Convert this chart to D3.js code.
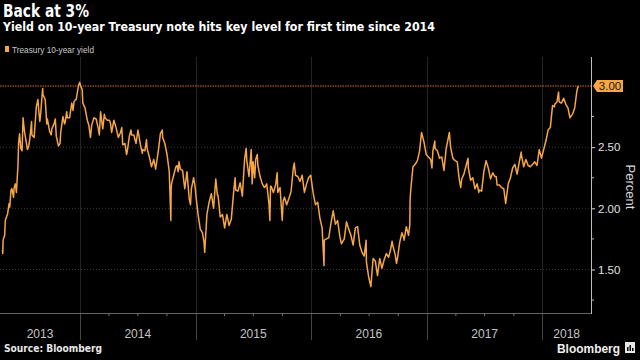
<!DOCTYPE html>
<html><head><meta charset="utf-8">
<script src="https://cdn.jsdelivr.net/npm/d3@7"></script>
<style>html,body{margin:0;padding:0;background:#000;}svg{display:block;}</style>
</head><body>
<svg id="c" width="640" height="360"></svg>
<script>
// ---- data (10-year Treasury yield, %) ----
const d2013 = [["2013-05-01",1.66],["2013-05-02",1.63],["2013-05-03",1.74],["2013-05-08",1.78],["2013-05-10",1.90],["2013-05-15",1.94],["2013-05-17",1.95],["2013-05-22",2.04],["2013-05-24",2.01],["2013-05-28",2.15],["2013-05-31",2.16],["2013-06-05",2.09],["2013-06-07",2.17],["2013-06-11",2.20],["2013-06-14",2.13],["2013-06-19",2.35],["2013-06-21",2.53],["2013-06-24",2.61],["2013-06-28",2.49],["2013-07-02",2.47],["2013-07-05",2.74],["2013-07-09",2.64],["2013-07-12",2.59],["2013-07-19",2.48],["2013-07-23",2.51],["2013-07-26",2.56],["2013-08-01",2.71],["2013-08-02",2.60],["2013-08-09",2.58],["2013-08-13",2.72],["2013-08-16",2.83],["2013-08-21",2.89],["2013-08-23",2.82],["2013-08-27",2.71],["2013-08-30",2.78],["2013-09-05",2.98],["2013-09-06",2.93],["2013-09-13",2.89],["2013-09-18",2.69],["2013-09-20",2.73],["2013-09-27",2.63],["2013-10-02",2.60],["2013-10-04",2.65],["2013-10-11",2.69],["2013-10-15",2.73],["2013-10-18",2.59],["2013-10-25",2.51],["2013-10-30",2.53],["2013-11-01",2.62],["2013-11-08",2.75],["2013-11-13",2.69],["2013-11-15",2.70],["2013-11-20",2.79],["2013-11-22",2.74],["2013-11-29",2.74],["2013-12-06",2.86],["2013-12-10",2.80],["2013-12-13",2.87],["2013-12-18",2.89],["2013-12-20",2.89],["2013-12-27",3.00],["2013-12-31",3.03]];
const d2014 = [["2014-01-03",3.00],["2014-01-08",2.97],["2014-01-10",2.86],["2014-01-17",2.82],["2014-01-24",2.72],["2014-01-29",2.68],["2014-01-31",2.64],["2014-02-03",2.58],["2014-02-07",2.68],["2014-02-14",2.74],["2014-02-21",2.73],["2014-02-28",2.65],["2014-03-03",2.60],["2014-03-07",2.79],["2014-03-14",2.65],["2014-03-19",2.77],["2014-03-21",2.74],["2014-03-28",2.72],["2014-04-04",2.72],["2014-04-07",2.70],["2014-04-11",2.62],["2014-04-18",2.72],["2014-04-25",2.66],["2014-05-02",2.58],["2014-05-09",2.62],["2014-05-13",2.66],["2014-05-16",2.52],["2014-05-23",2.53],["2014-05-28",2.44],["2014-05-30",2.46],["2014-06-06",2.59],["2014-06-11",2.64],["2014-06-13",2.60],["2014-06-20",2.60],["2014-06-27",2.53],["2014-07-03",2.64],["2014-07-11",2.52],["2014-07-17",2.45],["2014-07-18",2.48],["2014-07-25",2.47],["2014-07-30",2.56],["2014-08-01",2.49],["2014-08-08",2.42],["2014-08-15",2.34],["2014-08-22",2.40],["2014-08-28",2.32],["2014-08-29",2.34],["2014-09-05",2.46],["2014-09-12",2.61],["2014-09-18",2.64],["2014-09-19",2.58],["2014-09-26",2.53],["2014-10-03",2.44],["2014-10-10",2.30],["2014-10-15",1.90],["2014-10-16",2.15],["2014-10-17",2.20],["2014-10-24",2.27],["2014-10-31",2.34],["2014-11-04",2.35],["2014-11-07",2.30],["2014-11-10",2.38],["2014-11-14",2.32],["2014-11-21",2.31],["2014-11-28",2.16],["2014-12-05",2.30],["2014-12-12",2.08],["2014-12-16",2.03],["2014-12-19",2.16],["2014-12-26",2.25],["2014-12-31",2.17]];
const d2015 = [["2015-01-02",2.11],["2015-01-09",1.95],["2015-01-16",1.83],["2015-01-23",1.80],["2015-01-28",1.72],["2015-01-30",1.64],["2015-02-06",1.95],["2015-02-13",2.05],["2015-02-20",2.12],["2015-02-27",2.00],["2015-03-06",2.24],["2015-03-11",2.11],["2015-03-13",2.11],["2015-03-20",1.93],["2015-03-27",1.95],["2015-04-03",1.84],["2015-04-10",1.95],["2015-04-17",1.86],["2015-04-24",1.91],["2015-05-01",2.12],["2015-05-06",2.25],["2015-05-08",2.15],["2015-05-15",2.14],["2015-05-22",2.21],["2015-05-29",2.10],["2015-06-05",2.40],["2015-06-10",2.49],["2015-06-12",2.39],["2015-06-19",2.26],["2015-06-26",2.48],["2015-06-29",2.20],["2015-07-02",2.38],["2015-07-07",2.25],["2015-07-10",2.40],["2015-07-15",2.44],["2015-07-17",2.35],["2015-07-24",2.26],["2015-07-31",2.20],["2015-08-07",2.17],["2015-08-14",2.20],["2015-08-21",2.04],["2015-08-24",1.90],["2015-08-26",2.18],["2015-08-28",2.18],["2015-09-04",2.13],["2015-09-11",2.19],["2015-09-16",2.29],["2015-09-18",2.13],["2015-09-25",2.17],["2015-10-02",1.90],["2015-10-05",2.06],["2015-10-09",2.09],["2015-10-16",2.03],["2015-10-23",2.08],["2015-10-30",2.14],["2015-11-06",2.33],["2015-11-09",2.37],["2015-11-13",2.27],["2015-11-20",2.26],["2015-11-27",2.22],["2015-12-04",2.27],["2015-12-11",2.13],["2015-12-18",2.20],["2015-12-24",2.25],["2015-12-31",2.27]];
const d2016 = [["2016-01-08",2.12],["2016-01-15",2.03],["2016-01-22",2.05],["2016-01-29",1.92],["2016-02-05",1.84],["2016-02-11",1.53],["2016-02-12",1.74],["2016-02-19",1.75],["2016-02-26",1.76],["2016-03-04",1.88],["2016-03-11",1.98],["2016-03-18",1.87],["2016-03-25",1.90],["2016-04-01",1.77],["2016-04-06",1.71],["2016-04-08",1.72],["2016-04-15",1.75],["2016-04-22",1.89],["2016-04-29",1.83],["2016-05-06",1.78],["2016-05-13",1.70],["2016-05-20",1.84],["2016-05-27",1.85],["2016-06-03",1.70],["2016-06-10",1.64],["2016-06-17",1.61],["2016-06-23",1.74],["2016-06-24",1.56],["2016-07-01",1.44],["2016-07-08",1.36],["2016-07-15",1.59],["2016-07-22",1.57],["2016-07-29",1.45],["2016-08-05",1.59],["2016-08-12",1.51],["2016-08-19",1.58],["2016-08-26",1.63],["2016-09-02",1.60],["2016-09-09",1.67],["2016-09-13",1.73],["2016-09-16",1.69],["2016-09-23",1.62],["2016-09-27",1.55],["2016-09-30",1.59],["2016-10-07",1.72],["2016-10-14",1.80],["2016-10-20",1.76],["2016-10-21",1.74],["2016-10-28",1.85],["2016-11-04",1.78],["2016-11-08",1.86],["2016-11-09",2.07],["2016-11-11",2.15],["2016-11-18",2.34],["2016-11-25",2.36],["2016-12-02",2.39],["2016-12-09",2.47],["2016-12-15",2.62],["2016-12-23",2.54],["2016-12-30",2.44]];
const d2017 = [["2017-01-06",2.42],["2017-01-13",2.40],["2017-01-17",2.33],["2017-01-20",2.47],["2017-01-26",2.55],["2017-01-27",2.49],["2017-02-03",2.47],["2017-02-10",2.41],["2017-02-17",2.42],["2017-02-24",2.31],["2017-03-03",2.49],["2017-03-10",2.58],["2017-03-13",2.62],["2017-03-17",2.50],["2017-03-24",2.41],["2017-03-31",2.39],["2017-04-07",2.38],["2017-04-13",2.24],["2017-04-18",2.17],["2017-04-21",2.24],["2017-04-28",2.28],["2017-05-05",2.35],["2017-05-11",2.41],["2017-05-12",2.33],["2017-05-19",2.23],["2017-05-26",2.25],["2017-06-02",2.16],["2017-06-09",2.20],["2017-06-14",2.13],["2017-06-16",2.15],["2017-06-23",2.14],["2017-06-30",2.30],["2017-07-07",2.39],["2017-07-14",2.33],["2017-07-21",2.24],["2017-07-28",2.29],["2017-08-04",2.26],["2017-08-08",2.26],["2017-08-11",2.19],["2017-08-18",2.19],["2017-08-25",2.17],["2017-09-01",2.16],["2017-09-07",2.04],["2017-09-15",2.20],["2017-09-22",2.25],["2017-09-29",2.33],["2017-10-06",2.36],["2017-10-13",2.28],["2017-10-20",2.38],["2017-10-26",2.46],["2017-10-27",2.43],["2017-11-03",2.34],["2017-11-10",2.40],["2017-11-17",2.35],["2017-11-24",2.34],["2017-12-01",2.36],["2017-12-08",2.38],["2017-12-15",2.35],["2017-12-22",2.48],["2017-12-29",2.41]];
const d2018 = [["2018-01-05",2.48],["2018-01-12",2.55],["2018-01-19",2.64],["2018-01-26",2.66],["2018-02-02",2.84],["2018-02-08",2.83],["2018-02-09",2.85],["2018-02-16",2.87],["2018-02-21",2.95],["2018-02-23",2.87],["2018-03-02",2.86],["2018-03-09",2.90],["2018-03-16",2.85],["2018-03-23",2.82],["2018-03-29",2.74],["2018-04-06",2.77],["2018-04-13",2.82],["2018-04-20",2.96],["2018-04-24",3.00]];
const years = ["2013","2014","2015","2016","2017","2018"];
const yTicks = [1.5, 2.0, 2.5, 3.0];
const yMinorTicks = [1.25, 1.75, 2.25, 2.75];
const keyLevel = 3.0;
const title = "Back at 3%";
const subtitle = "Yield on 10-year Treasury note hits key level for first time since 2014";
const legendLabel = "Treasury 10-year yield";
const source = "Source: Bloomberg";

(function draw() {
  const parse = d3.timeParse("%Y-%m-%d");
  const series = [].concat(d2013, d2014, d2015, d2016, d2017, d2018).map(d => ({date: parse(d[0]), v: d[1]}));

  const svg = d3.select("#c");
  const W = 640, H = 360;
  const pL = 0, pR = 591, pT = 57, pB = 313;
  const ORANGE = "#f6a643";
  const FONT = "'Liberation Sans', Arial, sans-serif";

  svg.append("rect").attr("width", W).attr("height", H).attr("fill", "#000");

  const x = d3.scaleTime().domain([new Date(2014,0,1), new Date(2018,0,1)]).range([80, 542.4]);
  const y = d3.scaleLinear().domain([1.5, 3.0]).range([269.5, 86]);

  // gridlines
  svg.append("g").selectAll("line").data(yTicks.filter(t => t !== keyLevel)).join("line")
    .attr("x1", pL).attr("x2", pR).attr("y1", d => y(d)).attr("y2", d => y(d))
    .attr("stroke", "#3a3a3a").attr("stroke-width", 1).attr("stroke-dasharray", "1,2");

  // year separators
  const yearStarts = years.slice(1).map(s => new Date(+s, 0, 1));
  const sep = svg.append("g");
  sep.selectAll("line.in").data(yearStarts).join("line").attr("class", "in")
    .attr("x1", d => Math.round(x(d)) + 0.5).attr("x2", d => Math.round(x(d)) + 0.5).attr("y1", pT).attr("y2", pB)
    .attr("stroke", "#242424").attr("stroke-width", 1);
  sep.selectAll("line.out").data(yearStarts).join("line").attr("class", "out")
    .attr("x1", d => Math.round(x(d)) + 0.5).attr("x2", d => Math.round(x(d)) + 0.5).attr("y1", pB).attr("y2", 340)
    .attr("stroke", "#444").attr("stroke-width", 1);

  // bottom axis (quarter ticks)
  const xAxis = d3.axisBottom(x).ticks(d3.timeMonth.every(3)).tickSize(3).tickFormat("");
  const gx = svg.append("g").attr("transform", `translate(0,${pB})`).call(xAxis);
  gx.select(".domain").remove();
  gx.selectAll(".tick line").attr("stroke", "#777");
  gx.selectAll(".tick").filter(d => d.getMonth() === 0).remove();
  gx.selectAll(".tick").filter(d => x(d) < 0 || x(d) > pR).remove();
  svg.append("line").attr("x1", pL).attr("x2", pR).attr("y1", pB + 0.5).attr("y2", pB + 0.5)
    .attr("stroke", "#666");

  // year labels centered on visible part of each year
  svg.append("g").selectAll("text").data(years).join("text")
    .attr("x", d => {
      const a = Math.max(pL, x(new Date(+d, 0, 1)));
      const b = Math.min(pR, x(new Date(+d + 1, 0, 1)));
      return (a + b) / 2;
    })
    .attr("y", 338).attr("text-anchor", "middle")
    .attr("fill", "#c4c4c4").attr("font-family", FONT).attr("font-size", 12)
    .text(d => d);

  // key-level line
  svg.append("line").attr("x1", pL).attr("x2", pR).attr("y1", y(keyLevel)).attr("y2", y(keyLevel))
    .attr("stroke", "#e0692c").attr("stroke-width", 1.2).attr("stroke-dasharray", "1.5,1");

  // data line
  const line = d3.line().x(d => x(d.date)).y(d => y(d.v));
  svg.append("path").datum(series).attr("d", line)
    .attr("fill", "none").attr("stroke", ORANGE).attr("stroke-width", 1.5).attr("stroke-linejoin", "round");

  // right axis
  const yAxis = d3.axisRight(y).tickValues(yTicks.filter(t => t !== keyLevel)).tickSize(4).tickPadding(3)
    .tickFormat(d3.format(".2f"));
  const gy = svg.append("g").attr("transform", `translate(${pR},0)`).call(yAxis);
  gy.select(".domain").remove();
  gy.selectAll(".tick line").attr("stroke", "#ddd");
  gy.selectAll(".tick text").attr("fill", "#e0e0e0").attr("font-family", FONT).attr("font-size", 11.5);
  svg.append("g").selectAll("line").data(yMinorTicks).join("line")
    .attr("x1", pR).attr("x2", pR + 3).attr("y1", d => y(d)).attr("y2", d => y(d)).attr("stroke", "#bbb");
  svg.append("line").attr("x1", pR + 0.5).attr("x2", pR + 0.5).attr("y1", pT).attr("y2", pB + 1)
    .attr("stroke", "#bdbdbd");

  // key-level callout
  const ky = y(keyLevel);
  svg.append("path")
    .attr("d", `M${pR + 2},${ky} L${pR + 6},${ky - 6} L${pR + 32},${ky - 6} L${pR + 32},${ky + 6} L${pR + 6},${ky + 6} Z`)
    .attr("fill", ORANGE);
  svg.append("text").attr("x", pR + 19).attr("y", ky + 4).attr("text-anchor", "middle")
    .attr("fill", "#1a1a1a").attr("font-family", FONT).attr("font-size", 11.5).text(d3.format(".2f")(keyLevel));

  // axis title
  svg.append("text").attr("transform", `translate(626,187) rotate(90)`).attr("text-anchor", "middle")
    .attr("fill", "#d8d8d8").attr("font-family", FONT).attr("font-size", 13).text("Percent");

  // titles
  svg.append("text").attr("x", 3).attr("y", 17).attr("fill", "#fff").attr("font-family", "'DejaVu Sans', sans-serif")
    .attr("font-weight", "bold").attr("font-size", 18).attr("textLength", 86).attr("lengthAdjust", "spacingAndGlyphs").text(title);
  svg.append("text").attr("x", 3).attr("y", 31).attr("fill", "#fff").attr("font-family", "'DejaVu Sans', sans-serif")
    .attr("font-weight", "bold").attr("font-size", 12.5).attr("textLength", 432).attr("lengthAdjust", "spacingAndGlyphs").text(subtitle);

  // legend
  svg.append("rect").attr("x", 5).attr("y", 46).attr("width", 4).attr("height", 6).attr("fill", ORANGE);
  svg.append("text").attr("x", 12).attr("y", 52.5).attr("fill", "#c8c8c8").attr("font-family", FONT)
    .attr("font-size", 9).attr("textLength", 82).attr("lengthAdjust", "spacingAndGlyphs").text(legendLabel);

  // source
  svg.append("text").attr("x", 4).attr("y", 352).attr("fill", "#e8e8e8").attr("font-family", "'DejaVu Sans', sans-serif")
    .attr("font-weight", "bold").attr("font-size", 10).attr("textLength", 98).attr("lengthAdjust", "spacingAndGlyphs").text(source);

  // brand
  svg.append("text").attr("x", 557).attr("y", 352.5).attr("fill", "#f0f0f0").attr("font-family", FONT)
    .attr("font-weight", "bold").attr("font-size", 13).attr("textLength", 63).attr("lengthAdjust", "spacingAndGlyphs").text("Bloomberg");
  const icon = svg.append("g").attr("transform", "translate(625,342)");
  icon.append("rect").attr("width", 10).attr("height", 11).attr("fill", "#e8e8e8");
  icon.append("rect").attr("x", 2).attr("y", 5).attr("width", 1.5).attr("height", 4).attr("fill", "#000");
  icon.append("rect").attr("x", 4.5).attr("y", 3).attr("width", 1.5).attr("height", 6).attr("fill", "#000");
  icon.append("rect").attr("x", 7).attr("y", 6).attr("width", 1.5).attr("height", 3).attr("fill", "#000");
})();
</script>
</body></html>
